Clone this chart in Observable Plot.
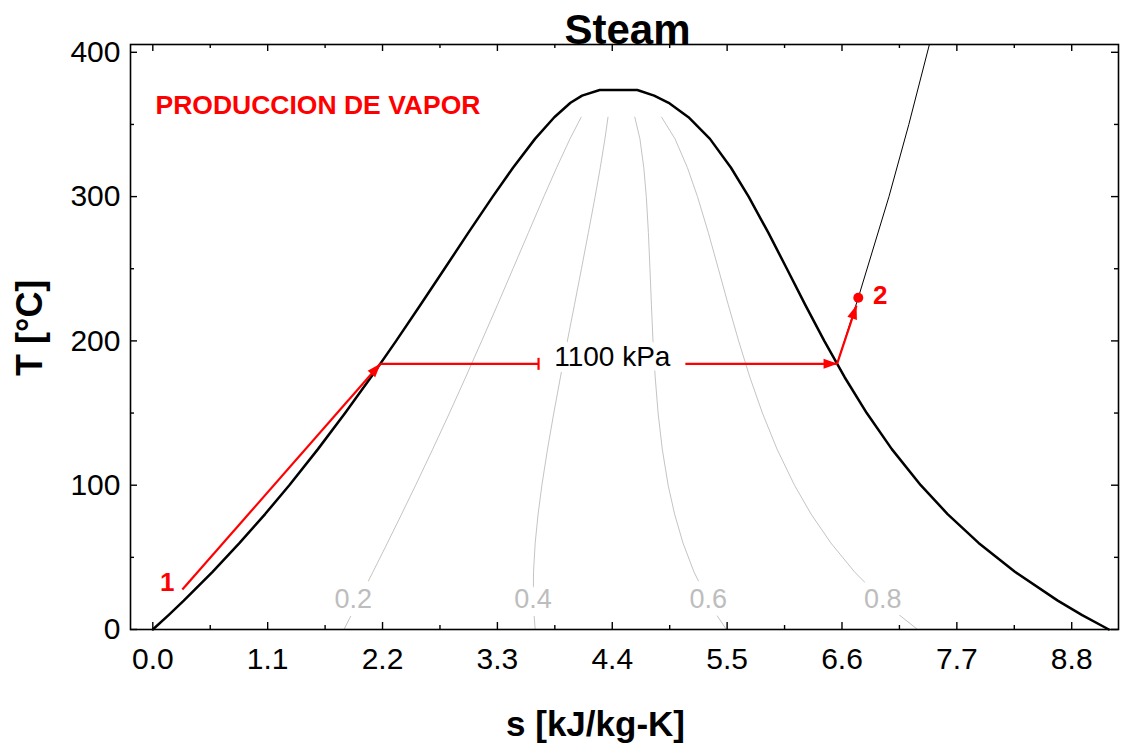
<!DOCTYPE html>
<html>
<head>
<meta charset="utf-8">
<script src="https://cdn.jsdelivr.net/npm/d3@7"></script>
<script src="https://cdn.jsdelivr.net/npm/@observablehq/plot@0.6"></script>
<style>
html, body { margin: 0; padding: 0; background: #fff; }
#chart svg { display: block; }
</style>
</head>
<body>
<div id="chart"></div>
<script>
// ---------- data ----------
const xMajor = [0, 1.1, 2.2, 3.3, 4.4, 5.5, 6.6, 7.7, 8.8];
const xMinor = [0.55, 1.65, 2.75, 3.85, 4.95, 6.05, 7.15, 8.25];
const yMajor = [0, 100, 200, 300, 400];
const yMinor = [50, 150, 250, 350];

// saturation dome
const satT = [0.01, 10, 20, 40, 60, 80, 100, 125, 150, 175, 200, 225, 250, 275, 300, 320, 340, 355, 365, 370, 373.9];
const sLiq = [0, 0.1511, 0.2965, 0.5724, 0.8313, 1.0756, 1.3072, 1.5816, 1.8418, 2.0906, 2.3305, 2.5639, 2.7935, 3.0223, 3.2552, 3.4494, 3.6601, 3.845, 4.00, 4.111, 4.28];
const sVap = [9.1556, 8.8999, 8.6661, 8.2557, 7.9081, 7.6111, 7.3541, 7.0771, 6.8371, 6.6240, 6.4302, 6.2483, 6.0721, 5.8944, 5.7059, 5.5372, 5.3356, 5.13, 4.94, 4.801, 4.64];

// quality lines
const qualT = [0.01, 10, 20, 40, 60, 80, 100, 125, 150, 175, 200, 225, 250, 275, 300, 320, 340, 355];
const q02 = [1.831, 1.901, 1.970, 2.109, 2.247, 2.383, 2.517, 2.681, 2.841, 2.997, 3.150, 3.301, 3.449, 3.597, 3.745, 3.867, 3.995, 4.102];
const q04 = [3.662, 3.651, 3.644, 3.646, 3.662, 3.690, 3.726, 3.780, 3.840, 3.904, 3.970, 4.038, 4.105, 4.171, 4.236, 4.285, 4.330, 4.359];
const q06 = [5.493, 5.400, 5.318, 5.182, 5.077, 4.997, 4.935, 4.879, 4.839, 4.811, 4.790, 4.775, 4.761, 4.746, 4.726, 4.702, 4.665, 4.616];
const q08 = [7.324, 7.150, 6.992, 6.719, 6.493, 6.304, 6.145, 5.978, 5.838, 5.717, 5.610, 5.511, 5.416, 5.320, 5.216, 5.120, 5.001, 4.873];
const qualityNames = ["0.2", "0.4", "0.6", "0.8"];
const qualityLabelS = [1.92, 3.64, 5.32, 6.99];
const qualityLabelT = [20.8, 20.8, 20.8, 20.8];

// 1100 kPa isobar (superheated part) and its label
const isobarName = "1100 kPa";
const isobarLabelS = [4.40];
const isobarLabelT = [188.5];
const superS = [6.553, 6.756, 7.05, 7.24, 7.437];
const superT = [184.1, 229.9, 300, 350, 405.4];

// states
const stateNames = ["1", "2"];
const stateS = [0.283, 6.756];
const stateT = [27.7, 229.9];

// process path segments
const pathS1 = [0.283, 2.179, 5.10, 6.553];
const pathT1 = [27.7, 184.1, 184.1, 184.1];
const pathS2 = [2.179, 3.694, 6.553, 6.738];
const pathT2 = [184.1, 184.1, 184.1, 224.5];
const pathEnd = ["arrow", "tick", "arrow", "arrow"];

const chartTitle = "Steam";
const note = "PRODUCCION DE VAPOR";
const xLabel = "s [kJ/kg-K]";
const yLabel = "T [°C]";

// ---------- derived tables ----------
const dome = satT.map((T, i) => ({s: sLiq[i], T}))
  .concat(satT.map((T, i) => ({s: sVap[i], T})).reverse());
const qualSeries = [q02, q04, q06, q08];
const qualLines = [];
qualSeries.forEach((arr, k) => arr.forEach((s, i) => qualLines.push({q: qualityNames[k], s, T: qualT[i]})));
const qualLabels = qualityNames.map((q, i) => ({q, s: qualityLabelS[i], T: qualityLabelT[i]}));
const superLine = superS.map((s, i) => ({s, T: superT[i]}));
const states = stateNames.map((n, i) => ({n, s: stateS[i], T: stateT[i]}));
const segs = pathS1.map((s, i) => ({s1: s, T1: pathT1[i], s2: pathS2[i], T2: pathT2[i], end: pathEnd[i]}));
const arrowSegs = segs.filter(d => d.end === "arrow");
const tickSegs = segs.filter(d => d.end === "tick");

// ---------- layout ----------
const W = 1121, H = 746, mL = 130, mR = 3, mT = 44, mB = 117;
const innerW = W - mL - mR, innerH = H - mT - mB;
const FONT = "'Liberation Sans', Arial, Helvetica, sans-serif";

function filledArrow(color, context) {
  const ns = "http://www.w3.org/2000/svg";
  const doc = (context && context.document) || document;
  const m = doc.createElementNS(ns, "marker");
  m.setAttribute("viewBox", "-15 -7 16 14");
  m.setAttribute("markerWidth", 16);
  m.setAttribute("markerHeight", 14);
  m.setAttribute("markerUnits", "userSpaceOnUse");
  m.setAttribute("orient", "auto");
  const p = doc.createElementNS(ns, "path");
  p.setAttribute("d", "M-13.5,-5L0.5,0L-13.5,5Z");
  p.setAttribute("fill", color);
  p.setAttribute("stroke", "none");
  m.appendChild(p);
  return m;
}
function barEnd(color, context) {
  const ns = "http://www.w3.org/2000/svg";
  const doc = (context && context.document) || document;
  const m = doc.createElementNS(ns, "marker");
  m.setAttribute("viewBox", "-3 -7 6 14");
  m.setAttribute("markerWidth", 6);
  m.setAttribute("markerHeight", 14);
  m.setAttribute("markerUnits", "userSpaceOnUse");
  m.setAttribute("orient", "auto");
  const p = doc.createElementNS(ns, "path");
  p.setAttribute("d", "M0,-6V6");
  p.setAttribute("stroke", color);
  p.setAttribute("stroke-width", 2.2);
  p.setAttribute("fill", "none");
  m.appendChild(p);
  return m;
}

function build(arrowMarker, tickMarker) {
  return Plot.plot({
    width: W, height: H,
    marginLeft: mL, marginRight: mR, marginTop: mT, marginBottom: mB,
    style: {fontFamily: FONT, background: "white", overflow: "visible", color: "black"},
    x: {domain: [-0.2136, 9.248], label: null},
    y: {domain: [0, 405.4], label: null},
    marks: [
      // quality lines
      Plot.line(qualLines, {x: "s", y: "T", z: "q", stroke: "#c4c4c4", strokeWidth: 1}),
      Plot.text(qualLabels, {x: "s", y: "T", text: "q", fill: "#bdbdbd", fontSize: 27,
        stroke: "white", strokeWidth: 16, paintOrder: "stroke", lineAnchor: "middle"}),
      // dome
      Plot.line(dome, {x: "s", y: "T", stroke: "black", strokeWidth: 2.5, strokeLinejoin: "round"}),
      // superheated isobar
      Plot.line(superLine, {x: "s", y: "T", stroke: "black", strokeWidth: 1, clip: true}),
      // isobar label
      Plot.text([isobarName], {x: isobarLabelS, y: isobarLabelT, text: d => d, fill: "black", fontSize: 28,
        stroke: "white", strokeWidth: 12, paintOrder: "stroke", lineAnchor: "middle"}),
      // process path
      Plot.link(arrowSegs, {x1: "s1", y1: "T1", x2: "s2", y2: "T2", stroke: "red", strokeWidth: 2.2, markerEnd: arrowMarker}),
      Plot.link(tickSegs, {x1: "s1", y1: "T1", x2: "s2", y2: "T2", stroke: "red", strokeWidth: 2.2, markerEnd: tickMarker}),
      Plot.dot(states.filter(d => d.n === "2"), {x: "s", y: "T", r: 5, fill: "red"}),
      Plot.text(states.filter(d => d.n === "1"), {x: "s", y: "T", text: "n", fill: "red", fontWeight: "bold", fontSize: 26, dx: -15, dy: -7, lineAnchor: "middle"}),
      Plot.text(states.filter(d => d.n === "2"), {x: "s", y: "T", text: "n", fill: "red", fontWeight: "bold", fontSize: 26, dx: 22, dy: -2, lineAnchor: "middle"}),
      // note
      Plot.text([note], {frameAnchor: "top-left", text: d => d, dx: 25, dy: 69, lineAnchor: "bottom", textAnchor: "start",
        fill: "red", fontWeight: "bold", fontSize: 26.5}),
      // frame and ticks
      Plot.frame({stroke: "black", strokeWidth: 1.6}),
      Plot.tickX(xMajor, {x: d => d, insetTop: innerH - 7, stroke: "black", strokeWidth: 1.4}),
      Plot.tickX(xMajor, {x: d => d, insetBottom: innerH - 7, stroke: "black", strokeWidth: 1.4}),
      Plot.tickX(xMinor, {x: d => d, insetTop: innerH - 4, stroke: "black", strokeWidth: 1.4}),
      Plot.tickX(xMinor, {x: d => d, insetBottom: innerH - 4, stroke: "black", strokeWidth: 1.4}),
      Plot.tickY(yMajor, {y: d => d, insetRight: innerW - 7, stroke: "black", strokeWidth: 1.4}),
      Plot.tickY(yMajor, {y: d => d, insetLeft: innerW - 7, stroke: "black", strokeWidth: 1.4}),
      Plot.tickY(yMinor, {y: d => d, insetRight: innerW - 4, stroke: "black", strokeWidth: 1.4}),
      Plot.tickY(yMinor, {y: d => d, insetLeft: innerW - 4, stroke: "black", strokeWidth: 1.4}),
      // axes labels
      Plot.axisX({ticks: xMajor, anchor: "bottom", tickSize: 0, tickPadding: 18, tickFormat: d => d.toFixed(1), fontSize: 30, label: null}),
      Plot.axisY({ticks: yMajor, anchor: "left", tickSize: 0, tickPadding: 10, tickFormat: d => String(d), fontSize: 30, label: null}),
      Plot.text([xLabel], {frameAnchor: "bottom", text: d => d, dx: -29, dy: 95, lineAnchor: "middle", fontSize: 35, fontWeight: "bold", fill: "black"}),
      Plot.text([yLabel], {frameAnchor: "left", text: d => d, rotate: -90, dx: -100, dy: 39, lineAnchor: "middle", fontSize: 36, fontWeight: "bold", fill: "black"}),
      // title
      Plot.text([chartTitle], {frameAnchor: "top", text: d => d, dx: 3, dy: -1, lineAnchor: "bottom", fontSize: 42, fontWeight: "bold", fill: "black"})
    ]
  });
}

let chart;
try {
  chart = build(filledArrow, barEnd);
} catch (e) {
  chart = build("arrow", "tick");
}
document.getElementById("chart").appendChild(chart);
</script>
</body>
</html>
